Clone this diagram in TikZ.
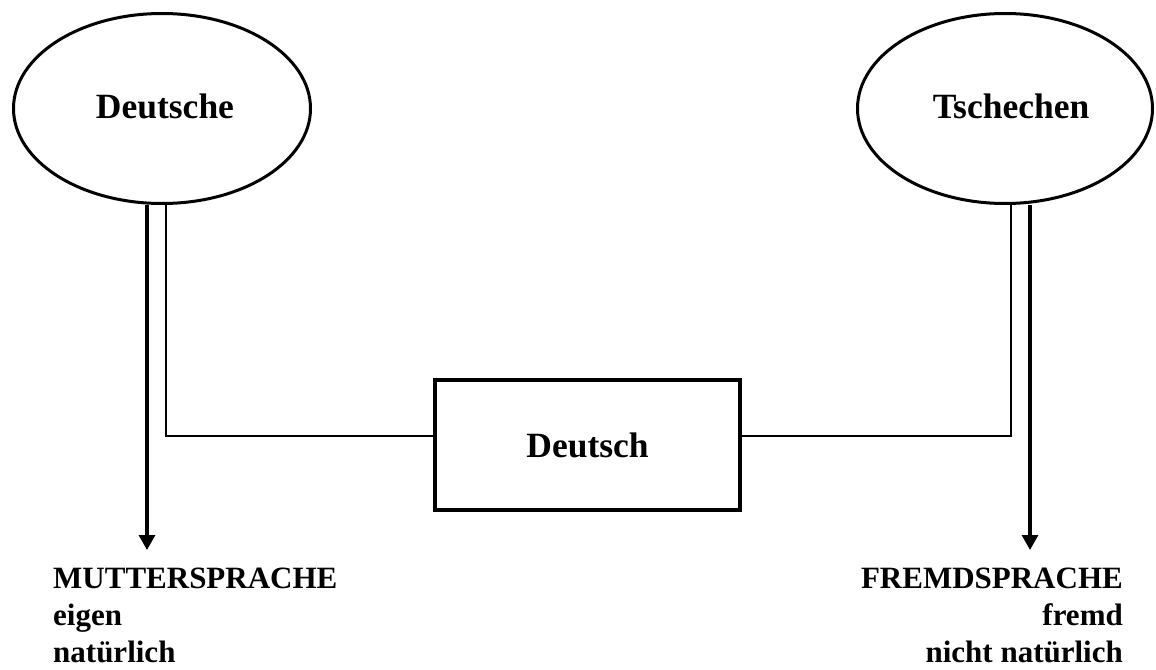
\documentclass[tikz,border=0pt]{standalone}
\usepackage{fontspec}
\setmainfont{Liberation Serif}
\usetikzlibrary{shapes.geometric,arrows.meta}
\begin{document}
\begin{tikzpicture}[x=1pt,y=-1pt,
  group/.style={ellipse,draw,line width=3pt,minimum height=190pt,inner sep=0pt},
  grouplabel/.style={inner sep=0pt,font=\fontsize{35.5}{42}\selectfont\bfseries},
  langbox/.style={rectangle,draw,line width=4.5pt,minimum width=305pt,minimum height=130pt,
    inner sep=0pt,font=\fontsize{35.5}{42}\selectfont\bfseries},
  link/.style={line width=1.5pt},
  flow/.style={line width=3.2pt,-{Triangle[length=15pt,width=16pt]}},
  caption/.style={font=\fontsize{31}{38}\selectfont\bfseries,inner sep=0pt}]
\useasboundingbox (0,0) rectangle (1156,669);

% speaker groups and the shared language
\node[group,minimum width=297pt] (de) at (162,108.5) {};
\node[group,minimum width=295pt] (cz) at (1005,108.5) {};
\node[grouplabel,anchor=base] (deText) at (165,118) {Deutsche};
\node[grouplabel,anchor=base] (czText) at (1011,118) {Tschechen};
\node[langbox] (lang) at (587.5,445) {Deutsch};

% bends of the thin links and ends of the arrows
\coordinate (deBend) at (166,436);
\coordinate (czBend) at (1011,436);
\coordinate (deTip) at (147,550);
\coordinate (czTip) at (1030,550);

% thin links from each group to the language
\draw[link] (deBend |- de.south) -- (deBend) -- (deBend -| lang.west);
\draw[link] (czBend |- cz.south) -- (czBend) -- (czBend -| lang.east);

% arrows to the status of the language for each group
\draw[flow] (deTip |- de.south) -- (deTip);
\draw[flow] (czTip |- cz.south) -- (czTip);

% captions below the arrows
\node[caption,anchor=base west] (m1) at (53,588) {MUTTERSPRACHE};
\node[caption,anchor=base west] (m2) at (53,625) {eigen};
\node[caption,anchor=base west] (m3) at (53,662) {natürlich};
\node[caption,anchor=base east] (f1) at (1123,588) {FREMDSPRACHE};
\node[caption,anchor=base east] (f2) at (1123,625) {fremd};
\node[caption,anchor=base east] (f3) at (1123,662) {nicht natürlich};
\end{tikzpicture}
\end{document}
